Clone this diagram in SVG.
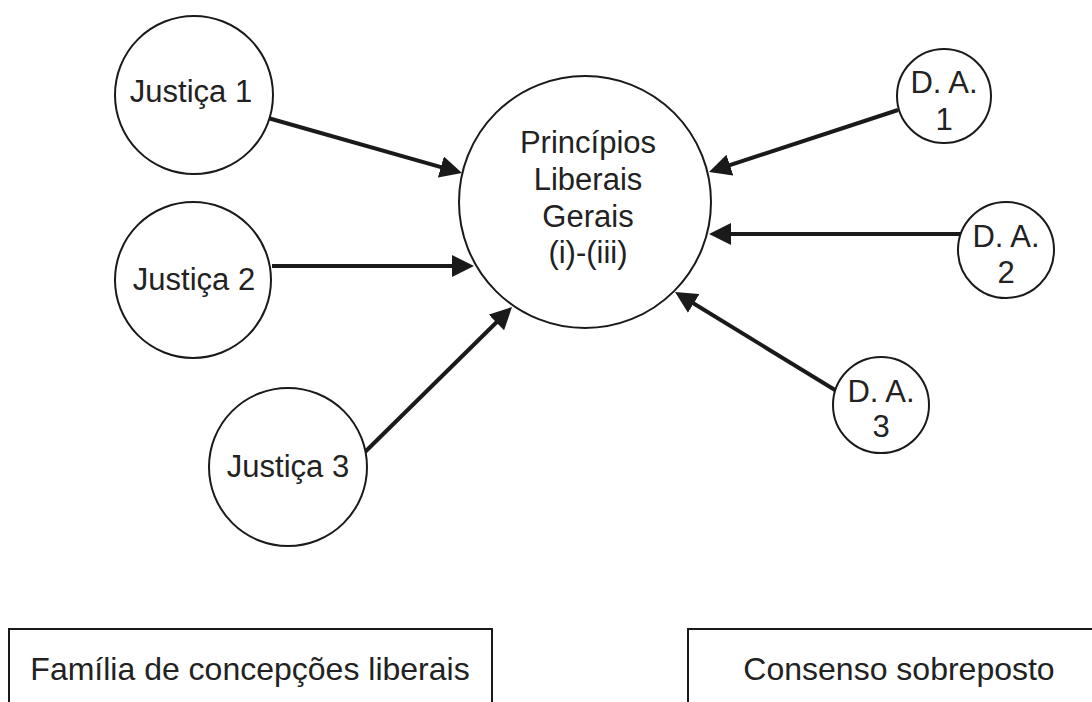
<svg xmlns="http://www.w3.org/2000/svg" width="1092" height="702" viewBox="0 0 1092 702">
<style>
.node{fill:#fff;stroke:#1a1a1a;stroke-width:2}
.lbl{font-family:"Liberation Sans",Arial,sans-serif;font-size:31px;fill:#222;text-anchor:middle}
.box{font-size:32px}
.edge{stroke:#1a1a1a;stroke-width:4;fill:none;marker-end:url(#ah)}
</style>
<defs>
<marker id="ah" viewBox="0 0 22 22" refX="12" refY="11" markerWidth="22" markerHeight="22" markerUnits="userSpaceOnUse" orient="auto">
<path d="M0,0 L22,11 L0,22 z" fill="#1a1a1a"/>
</marker>
</defs>
<rect width="1092" height="702" fill="#fff"/>
<g id="connectors">
<line class="edge" x1="268" y1="118" x2="452.4" y2="170.3"/>
<line class="edge" x1="272" y1="266" x2="464" y2="266"/>
<line class="edge" x1="365" y1="452" x2="504.9" y2="314"/>
<line class="edge" x1="898" y1="110" x2="718.5" y2="168.9"/>
<line class="edge" x1="962" y1="234" x2="719" y2="234"/>
<line class="edge" x1="835" y1="390" x2="683.5" y2="297.2"/>
</g>
<g id="justica1">
<circle class="node" cx="194" cy="95" r="79"/>
<text class="lbl" x="191" y="102">Justiça 1</text>
</g>
<g id="justica2">
<circle class="node" cx="193" cy="280" r="78"/>
<text class="lbl" x="194" y="290">Justiça 2</text>
</g>
<g id="justica3">
<circle class="node" cx="288" cy="467" r="79"/>
<text class="lbl" x="288" y="477">Justiça 3</text>
</g>
<g id="principios">
<circle class="node" cx="585" cy="202" r="126"/>
<text class="lbl" x="588" y="153">Princípios</text>
<text class="lbl" x="588" y="190">Liberais</text>
<text class="lbl" x="588" y="227">Gerais</text>
<text class="lbl" x="588" y="263">(i)-(iii)</text>
</g>
<g id="da1">
<circle class="node" cx="944" cy="96" r="47"/>
<text class="lbl" x="944" y="93">D. A.</text>
<text class="lbl" x="944" y="130">1</text>
</g>
<g id="da2">
<circle class="node" cx="1006" cy="250" r="48"/>
<text class="lbl" x="1006" y="247">D. A.</text>
<text class="lbl" x="1006" y="283">2</text>
</g>
<g id="da3">
<circle class="node" cx="881" cy="405" r="48"/>
<text class="lbl" x="881" y="402">D. A.</text>
<text class="lbl" x="881" y="437">3</text>
</g>
<g id="familia">
<rect class="node" x="9" y="629" width="483" height="90"/>
<text class="lbl box" x="250" y="680">Família de concepções liberais</text>
</g>
<g id="consenso">
<rect class="node" x="688" y="629" width="420" height="90"/>
<text class="lbl box" x="899" y="680">Consenso sobreposto</text>
</g>
</svg>
